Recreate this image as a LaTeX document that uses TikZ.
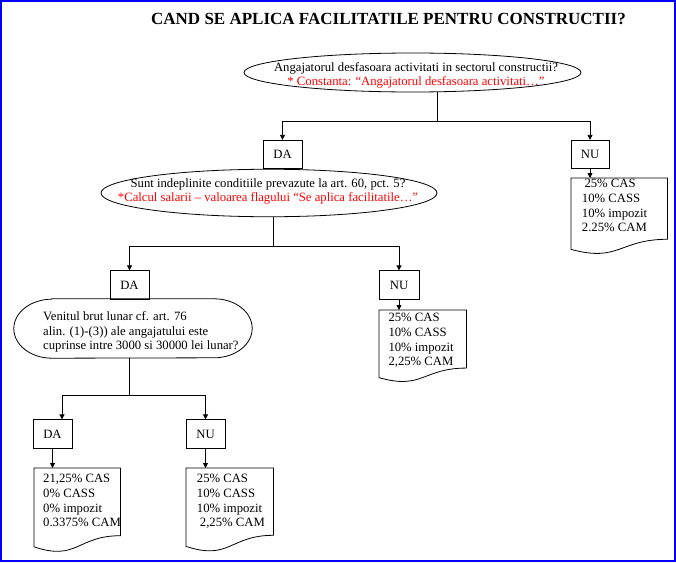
\documentclass[tikz,border=0pt]{standalone}
\usepackage{fontspec}
\setmainfont{Liberation Serif}
\usetikzlibrary{shapes.geometric,arrows.meta,calc}

\tikzset{
  flow/.style={line width=0.8pt},
  arr/.style={flow,-{Triangle[length=5pt,width=5pt]}},
  answer/.style={draw,flow,rectangle,minimum width=39pt,minimum height=28.5pt,inner sep=0pt,font=\fontsize{12.7}{14.6}\selectfont},
  question/.style={draw,flow,ellipse,inner sep=0pt},
  qtext/.style={inner sep=0pt,align=center,anchor=north,font=\fontsize{12.7}{14}\selectfont},
  vals/.style={inner sep=0pt,align=left,anchor=north west,font=\fontsize{12.7}{14.6}\selectfont},
  docbox/.style={inner sep=0pt,anchor=north west},
}

\newcommand{\docoutline}[1]{%
  \draw[flow] (#1.north west) -- (#1.north east) -- ($(#1.north east)!0.802!(#1.south east)$)
    .. controls ($(#1.north)!0.802!(#1.south)$) and ($(#1.north)!1.107!(#1.south)$) .. ($(#1.north west)!0.934!(#1.south west)$) -- cycle;}

\begin{document}
\begin{tikzpicture}[x=1pt,y=-1pt]
\useasboundingbox (0,0) rectangle (676,562);
\draw[blue,line width=1.6pt] (0.8,0.8) rectangle (675.2,561.2);

\node[inner sep=0pt,font=\fontsize{17}{19}\selectfont\bfseries] (title) at (388.5,19) {CAND SE APLICA FACILITATILE PENTRU CONSTRUCTII?};

\node[question,minimum width=337pt,minimum height=39pt] (cond1) at (412.5,72.5) {};
\node[qtext] (cond1t) at (416,62.5) {Angajatorul desfasoara activitati in sectorul constructii?\\
  \textcolor{red}{* Constanta: “Angajatorul desfasoara activitati…”}};

\node[answer] (da1) at (282.5,154.5) {DA};
\node[answer,minimum width=38pt] (nu1) at (590,154.5) {NU};

\node[question,minimum width=336pt,minimum height=47.5pt] (cond2) at (269,193) {};
\node[qtext] (cond2t) at (268,178) {Sunt indeplinite conditiile prevazute la art. 60, pct. 5?\\
  \textcolor{red}{*Calcul salarii – valoarea flagului “Se aplica facilitatile…”}};

\node[docbox,minimum width=96pt,minimum height=76pt] (res1) at (571,178) {};
\docoutline{res1}
\node[vals] (res1t) at (581.7,179.3) {\hspace*{2.6pt}25\% CAS\\10\% CASS\\10\% impozit\\2.25\% CAM};

\node[answer] (da2) at (129.5,285) {DA};
\node[answer,minimum width=40pt] (nu2) at (399,285) {NU};

\node[inner sep=0pt,minimum width=238pt,minimum height=59pt] (cond3) at (133,328.5) {};
\draw[flow] ([xshift=38pt]cond3.north west) -- ([xshift=-38pt]cond3.north east)
  arc[start angle=90,end angle=-90,x radius=38pt,y radius=29.5pt] -- ([xshift=38pt]cond3.south west)
  arc[start angle=270,end angle=90,x radius=38pt,y radius=29.5pt] -- cycle;
\node[vals,font=\fontsize{12.7}{14.5}\selectfont] (cond3t) at (43,311.5) {Venitul brut lunar cf. art. 76\\alin. (1)-(3)) ale angajatului este\\cuprinse intre 3000 si 30000 lei lunar?};

\node[docbox,minimum width=87pt,minimum height=72pt] (res2) at (379,310) {};
\docoutline{res2}
\node[vals] (res2t) at (388.3,313.3) {25\% CAS\\10\% CASS\\10\% impozit\\2,25\% CAM};

\node[answer] (da3) at (52.5,434) {DA};
\node[answer] (nu3) at (205.5,434) {NU};

\node[docbox,minimum width=86pt,minimum height=84pt] (res3) at (34,468) {};
\docoutline{res3}
\node[vals] (res3t) at (43,474.3) {21,25\% CAS\\0\% CASS\\0\% impozit\\0.3375\% CAM};

\node[docbox,minimum width=87pt,minimum height=83.5pt] (res4) at (186,468) {};
\docoutline{res4}
\node[vals] (res4t) at (196.7,474.3) {25\% CAS\\10\% CASS\\10\% impozit\\\hspace*{3pt}2,25\% CAM};

\coordinate (j1) at (437,121);
\coordinate (j2) at (273,246);
\coordinate (j3) at (129,395);

\draw[flow] (cond1.south -| j1) -- (j1);
\draw[arr] (j1) -| (da1);
\draw[arr] (j1) -| (nu1);
\draw[arr] (nu1) -- (nu1 |- res1.north);

\draw[flow] (cond2.south -| j2) -- (j2);
\draw[arr] (j2) -| (da2);
\draw[arr] (j2) -| (nu2);
\draw[arr] (nu2) -- (nu2 |- res2.north);

\draw[flow] (cond3.south -| j3) -- (j3);
\draw[arr] (j3) -| ($(da3.north)+(9.5,0)$);
\draw[arr] (j3) -| (nu3);
\draw[arr] (da3) -- (da3 |- res3.north);
\draw[arr] (nu3) -- (nu3 |- res4.north);
\end{tikzpicture}
\end{document}
